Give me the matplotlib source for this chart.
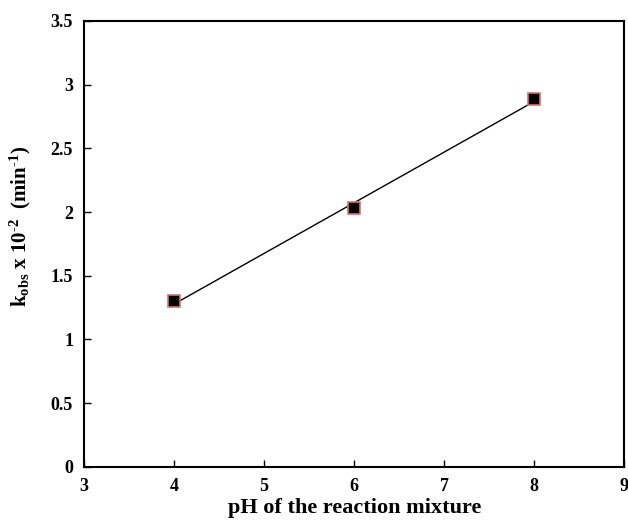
import numpy as np
import matplotlib
matplotlib.use("Agg")
import matplotlib.pyplot as plt

ph = [4, 6, 8]
kobs = [1.30, 2.03, 2.89]
xticks = [3, 4, 5, 6, 7, 8, 9]
yticks = [0, 0.5, 1, 1.5, 2, 2.5, 3, 3.5]
ytick_labels = ["0", "0.5", "1", "1.5", "2", "2.5", "3", "3.5"]

plt.rcParams['font.family'] = 'Liberation Serif'
plt.rcParams['font.weight'] = 'bold'
plt.rcParams['mathtext.fontset'] = 'custom'
plt.rcParams['mathtext.rm'] = 'Liberation Serif:bold'
plt.rcParams['mathtext.bf'] = 'Liberation Serif:bold'
plt.rcParams['mathtext.it'] = 'Liberation Serif:bold'

fig = plt.figure(figsize=(6.28, 5.24), dpi=100)
ax = fig.add_axes([0.134, 0.109, 0.860, 0.851])

# linear trend line through the points
slope, intercept = np.polyfit(ph, kobs, 1)
xs = np.array([min(ph), max(ph)])
ax.plot(xs, slope * xs + intercept, color='black', linewidth=1.0, zorder=2)

ax.plot(ph, kobs, linestyle='none', marker='s', markersize=8,
        markerfacecolor='black', markeredgecolor='#d87070',
        markeredgewidth=1.2, zorder=3)

ax.set_xlim(3, 9)
ax.set_ylim(0, 3.5)
ax.set_xticks(xticks)
ax.set_yticks(yticks)
ax.set_yticklabels(ytick_labels)
ax.tick_params(direction='in', length=5, width=1, labelsize=13, pad=8)
for lbl in ax.get_xticklabels() + ax.get_yticklabels():
    lbl.set_fontweight('bold')
for sp in ax.spines.values():
    sp.set_linewidth(1.5)

ax.set_xlabel('pH of the reaction mixture', fontsize=16, fontweight='bold', labelpad=2)
ax.set_ylabel(r'k$_{\mathrm{obs}}$ x 10$^{\text{-2}}$  (min$^{\text{-1}}$)',
              fontsize=15, fontweight='bold')
ax.yaxis.set_label_coords(-0.095, 0.54)

fig.savefig('out.png', dpi=100)
